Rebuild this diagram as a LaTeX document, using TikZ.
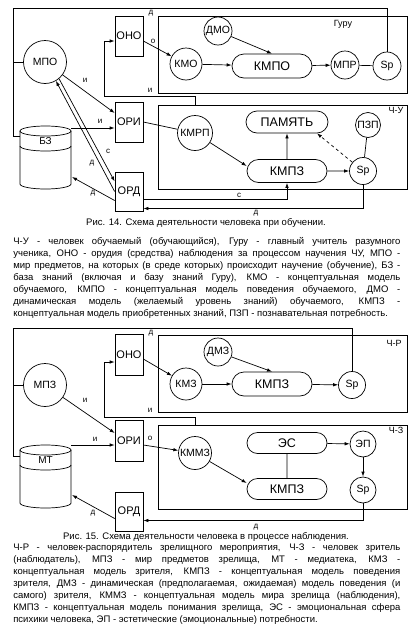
\documentclass[tikz,border=0pt]{standalone}
\usepackage{fontspec}
\setmainfont{Liberation Sans}
\usetikzlibrary{arrows.meta,shapes.misc}

\begin{document}
\begin{tikzpicture}[x=1pt, y=-1pt, line width=0.7pt,
	>={Latex[length=5pt,width=3.5pt]},
	every node/.style={font=\fontsize{9}{10}\selectfont},
	circ/.style={draw, circle, inner sep=0pt, minimum size=#1, font=\fontsize{10.5}{11}\selectfont},
	blk/.style={draw, minimum width=28pt, minimum height=#1, inner sep=0pt, font=\fontsize{11}{12}\selectfont},
	pill/.style={draw, rounded rectangle, minimum width=80pt, minimum height=#1, inner sep=0pt, font=\fontsize{12.5}{13}\selectfont},
	lbl/.style={inner sep=0pt, font=\fontsize{8}{8}\selectfont},
	txt/.style={inner sep=0pt, text width=387pt, align=justify, anchor=north west, font=\fontsize{9.5}{12}\selectfont}]
	\useasboundingbox (0,0) rectangle (413,635);

	% Рис. 14
	\draw (158,16) rectangle (407,93);
	\draw (158,105) rectangle (407,189);
	\node (guru) at (343,24) {Гуру};
	\node (chu) at (396,110) {Ч-У};
	\node[circ=43] (mpo) at (45,62) {МПО};
	\node[blk=40] (ono) at (129,36) {ОНО};
	\node[blk=40] (ori) at (129,122) {ОРИ};
	\node[blk=39] (ord) at (129,191.5) {ОРД};
	\node[circ=32] (kmo) at (186,64) {КМО};
	\node[circ=28] (dmo) at (218,31) {ДМО};
	\node[pill=24] (kmpo) at (272,66) {КМПО};
	\node[circ=28] (mpr) at (345,65) {МПР};
	\node[circ=28] (spg) at (387,66) {Sp};
	\node[circ=35] (kmrp) at (195,133) {КМРП};
	\node[pill=22, minimum width=82pt] (pam) at (287,122) {ПАМЯТЬ};
	\node[circ=25] (pzp) at (368,125) {ПЗП};
	\node[pill=23] (kmpz) at (287,171) {КМПЗ};
	\node[circ=27] (spu) at (363,171) {Sp};

	% базы
	\foreach \c/\t/\n in {131/БЗ/bz, 450/МТ/mt} {
		\draw (45.5,\c) ellipse [x radius=25.5, y radius=5];
		\draw (20,\c) -- (20,\c+53) arc [start angle=180, end angle=0, x radius=25.5, y radius=5] -- (71,\c);
		\draw (20,\c+15) arc [start angle=180, end angle=0, x radius=25.5, y radius=5];
		\node[font=\fontsize{10}{11}\selectfont] (\n) at (45.5,\c+10) {\t};
	}

	\coordinate (t1) at (13,8);
	\coordinate (bzl) at (20,136);
	\draw (spg.north) -- (spg.north |- t1) -- (t1) -- (t1 |- bzl) -- (bzl);
	\draw (mpo.west) -- (mpo.west -| t1);
	\node[lbl] at (151,13) {д};
	\coordinate (u1) at (195,105);
	\draw[->] (u1) |- (104,96) |- ([yshift=-5pt]ono.west);
	\node[lbl] at (150,90) {и};
	\draw[->] ([yshift=-5pt]ono.east) -- (kmo);
	\node[lbl] at (153,41) {о};
	\draw[->] (kmo) -- (kmpo);
	\draw[->] (dmo) -- (kmpo.north);
	\draw[->] (kmpo) -- (mpr);
	\draw (mpr) -- (spg);
	\draw[->] (mpo) -- ([yshift=9pt]ori.west);
	\node[lbl] at (85,80) {и};
	\coordinate (bzr) at (71,128);
	\draw[->] (bzr) -- (bzr -| ori.west);
	\node[lbl] at (100,121) {и};
	\draw (ori.east) -- (kmrp);
	\draw[->] (kmrp) -- ([yshift=5pt]kmpz.west);
	\draw[->] (kmpz) -- (pam);
	\draw[->] (kmpz) -- (spu);
	\draw[->, dashed] (spu) -- (pam.south east);
	\draw (pzp) -- (spu);
	\draw[->] (spu) |- ([yshift=-17pt]ord.east);
	\node[lbl] at (256,213) {д};
	\draw[->] ([yshift=-8pt]ord.east) -| (kmpz.south);
	\node[lbl] at (239,195) {с};
	\coordinate (bzd) at (72,177);
	\draw[->] ([yshift=-9pt]ord.west) -- (bzd);
	\node[lbl] at (93,193) {д};
	\draw[->] (ord.west) -- (mpo.-60);
	\node[lbl] at (92,163) {д};
	\draw[->] (mpo.-50) -- ([yshift=10pt]ord.west);
	\node[lbl] at (108,151) {с};

	\node[font=\fontsize{9.5}{11}\selectfont] (cap1) at (206,223) {Рис. 14. Схема деятельности человека при обучении.};
	\node[txt] (txt1) at (13,237) {Ч-У - человек обучаемый (обучающийся), Гуру - главный учитель разумного\linebreak
		ученика, ОНО - орудия (средства) наблюдения за процессом научения ЧУ, МПО -\linebreak
		мир предметов, на которых (в среде которых) происходит научение (обучение), БЗ -\linebreak
		база знаний (включая и базу знаний Гуру), КМО - концептуальная модель\linebreak
		обучаемого, КМПО - концептуальная модель поведения обучаемого, ДМО -\linebreak
		динамическая модель (желаемый уровень знаний) обучаемого, КМПЗ -\linebreak
		концептуальная модель приобретенных знаний, ПЗП - познавательная потребность.};

	% Рис. 15
	\draw (158,335) rectangle (407,412);
	\draw (158,425) rectangle (407,509);
	\node (chr) at (394,343) {Ч-Р};
	\node (chz) at (396,430) {Ч-З};
	\node[circ=43] (mpz) at (45,385) {МПЗ};
	\node[blk=41] (ono2) at (129,355) {ОНО};
	\node[blk=41] (ori2) at (129,441) {ОРИ};
	\node[blk=39] (ord2) at (129,511.5) {ОРД};
	\node[circ=32] (kmz) at (186,384) {КМЗ};
	\node[circ=28] (dmz) at (218,352) {ДМЗ};
	\node[pill=24] (kmpzr) at (272,384) {КМПЗ};
	\node[circ=27] (spr) at (352,385) {Sp};
	\node[circ=33] (kmmz) at (195,453) {КММЗ};
	\node[pill=21] (es) at (287,443) {ЭС};
	\node[pill=21] (kmpzz) at (287,489) {КМПЗ};
	\node[circ=26] (ep) at (363,444) {ЭП};
	\node[circ=26] (spz) at (363,490) {Sp};

	\coordinate (t2) at (13,328);
	\coordinate (mtl) at (20,456);
	\draw (spr.north) -- (spr.north |- t2) -- (t2) -- (t2 |- mtl) -- (mtl);
	\draw (mpz.west) -- (mpz.west -| t2);
	\node[lbl] at (151,333) {д};
	\coordinate (u2) at (195,425);
	\draw[->] (u2) |- (104,417) |- ([yshift=-7pt]ono2.west);
	\node[lbl] at (150,410) {и};
	\draw[->] ([yshift=-4pt]ono2.east) -- (kmz);
	\draw[->] (kmz) -- (kmpzr);
	\draw[->] (dmz) -- (kmpzr.north);
	\draw[->] (kmpzr) -- (spr);
	\draw[->] (mpz) -- ([yshift=8pt]ori2.west);
	\node[lbl] at (85,400) {и};
	\coordinate (mtr) at (71,445);
	\draw[->] (mtr) -- (mtr -| ori2.west);
	\node[lbl] at (95,439) {и};
	\draw[->] ([yshift=-4pt]ori2.east) -- (kmmz);
	\node[lbl] at (150,438) {о};
	\draw[->] (kmmz) -- ([yshift=6pt]kmpzz.west);
	\draw (es) -- (kmpzz);
	\draw[->] (es) -- (ep);
	\draw[->] (ep) -- (spz);
	\draw[->] (spz) |- ([yshift=-9pt]ord2.east);
	\node[lbl] at (256,527) {д};
	\coordinate (mtd) at (72,495);
	\draw[->] ([yshift=-7pt]ord2.west) -- (mtd);
	\node[lbl] at (93,513) {д};

	\node[font=\fontsize{9.5}{11}\selectfont] (cap2) at (206,537) {Рис. 15. Схема деятельности человека в процессе наблюдения.};
	\node[txt] (txt2) at (13,544) {Ч-Р - человек-распорядитель зрелищного мероприятия, Ч-З - человек зритель\linebreak
		(наблюдатель), МПЗ - мир предметов зрелища, МТ - медиатека, КМЗ -\linebreak
		концептуальная модель зрителя, КМПЗ - концептуальная модель поведения\linebreak
		зрителя, ДМЗ - динамическая (предполагаемая, ожидаемая) модель поведения (и\linebreak
		самого) зрителя, КММЗ - концептуальная модель мира зрелища (наблюдения),\linebreak
		КМПЗ - концептуальная модель понимания зрелища, ЭС - эмоциональная сфера\linebreak
		психики человека, ЭП - эстетические (эмоциональные) потребности.};
\end{tikzpicture}
\end{document}
